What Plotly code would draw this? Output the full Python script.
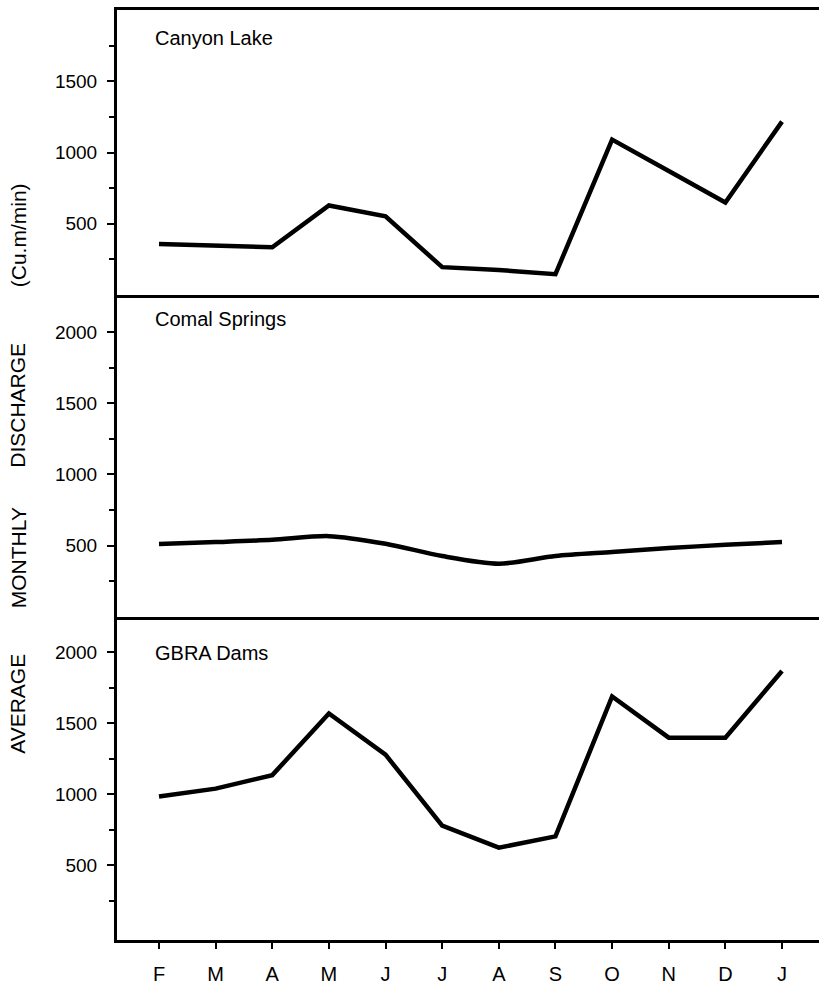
import plotly.graph_objects as go

# ---------------- data ----------------
months = ["F", "M", "A", "M", "J", "J", "A", "S", "O", "N", "D", "J"]
month_pos = list(range(1, 13))

canyon_lake = [359, 348, 336, 629, 552, 196, 176, 147, 1091, 870, 650, 1217]
comal_springs = [510, 524, 540, 566, 512, 426, 372, 426, 454, 482, 505, 524]
gbra_dams = [985, 1041, 1136, 1570, 1280, 780, 625, 705, 1690, 1400, 1400, 1870]

panel_names = ["Canyon Lake", "Comal Springs", "GBRA Dams"]
ytick_top = [500, 1000, 1500]
ytick_lower = [500, 1000, 1500, 2000]
yminor_top = [250, 750, 1250, 1750]
yminor_lower = [250, 750, 1250, 1750]
y_title_words = ["AVERAGE", "MONTHLY", "DISCHARGE", "(Cu.m/min)"]

# ---------------- geometry helpers ----------------
W, H = 819, 985
ML, MR, MT, MB = 117, 0, 10, 42
PW = W - ML - MR
PH = H - MT - MB


def py(ypix):
    return (H - MB - ypix) / PH


def px(xpix):
    return (xpix - ML) / PW


FONT = "Liberation Sans, Arial, Helvetica, sans-serif"
NARROW = "Liberation Sans Narrow, Arial Narrow, Liberation Sans, sans-serif"

domains = [[py(296), 1.0], [py(618.5), py(296)], [0.0, py(618.5)]]
yranges = [[0, 2000], [0, 2263], [-25, 2253]]
series = [canyon_lake, comal_springs, gbra_dams]
shapes = ["linear", "spline", "linear"]

fig = go.Figure()
for i, (vals, shp) in enumerate(zip(series, shapes)):
    n = "" if i == 0 else str(i + 1)
    fig.add_trace(go.Scatter(
        x=month_pos, y=vals, mode="lines",
        line=dict(color="black", width=4.5, shape=shp, smoothing=0.8),
        xaxis="x" + n, yaxis="y" + n, showlegend=False,
        hoverinfo="skip",
    ))

layout = dict(
    width=W, height=H,
    margin=dict(l=ML, r=MR, t=MT, b=MB, pad=0),
    paper_bgcolor="white", plot_bgcolor="white",
    font=dict(family=FONT, color="black", size=18),
    showlegend=False,
)

xr = [0.2585, 12.653]
for i in range(3):
    n = "" if i == 0 else str(i + 1)
    xa = dict(
        domain=[0, 1], range=xr, anchor="y" + n,
        showline=True, linecolor="black", linewidth=3,
        showgrid=False, zeroline=False, fixedrange=True,
    )
    if i == 0:
        xa["mirror"] = True
    if i < 2:
        xa.update(showticklabels=False, ticks="", matches="x3")
    else:
        xa.update(
            tickmode="array", tickvals=month_pos, ticktext=months,
            ticks="outside", ticklen=6, tickwidth=2, tickcolor="black",
            tickfont=dict(family=NARROW, size=20),
            ticklabelstandoff=8,
        )
    layout["xaxis" + n] = xa

    ya = dict(
        domain=domains[i], range=yranges[i], anchor="x" + n,
        showline=True, linecolor="black", linewidth=3,
        showgrid=False, zeroline=False, fixedrange=True,
        tickmode="array",
        tickvals=ytick_top if i == 0 else ytick_lower,
        ticks="outside", ticklen=7, tickwidth=2, tickcolor="black",
        tickfont=dict(family=FONT, size=19),
        ticklabelstandoff=6,
        minor=dict(
            tickmode="array",
            tickvals=yminor_top if i == 0 else yminor_lower,
            ticks="outside", ticklen=5, tickwidth=2, tickcolor="black",
            showgrid=False,
        ),
    )
    layout["yaxis" + n] = ya

fig.update_layout(**layout)

# panel titles
title_y = [38, 320, 655]
for name, yc in zip(panel_names, title_y):
    fig.add_annotation(
        text=name, xref="paper", yref="paper",
        x=px(153), y=py(yc), xanchor="left", yanchor="middle",
        showarrow=False, font=dict(family=FONT, size=20, color="black"),
    )

# rotated y-axis title, word by word
word_centers = [706, 560, 407, 236]
for word, yc in zip(y_title_words, word_centers):
    fig.add_annotation(
        text=word, xref="paper", yref="paper",
        x=px(18), y=py(yc), xanchor="center", yanchor="middle",
        textangle=-90, showarrow=False,
        font=dict(family=FONT, size=21, color="black"),
    )

fig.write_html("out.html")
